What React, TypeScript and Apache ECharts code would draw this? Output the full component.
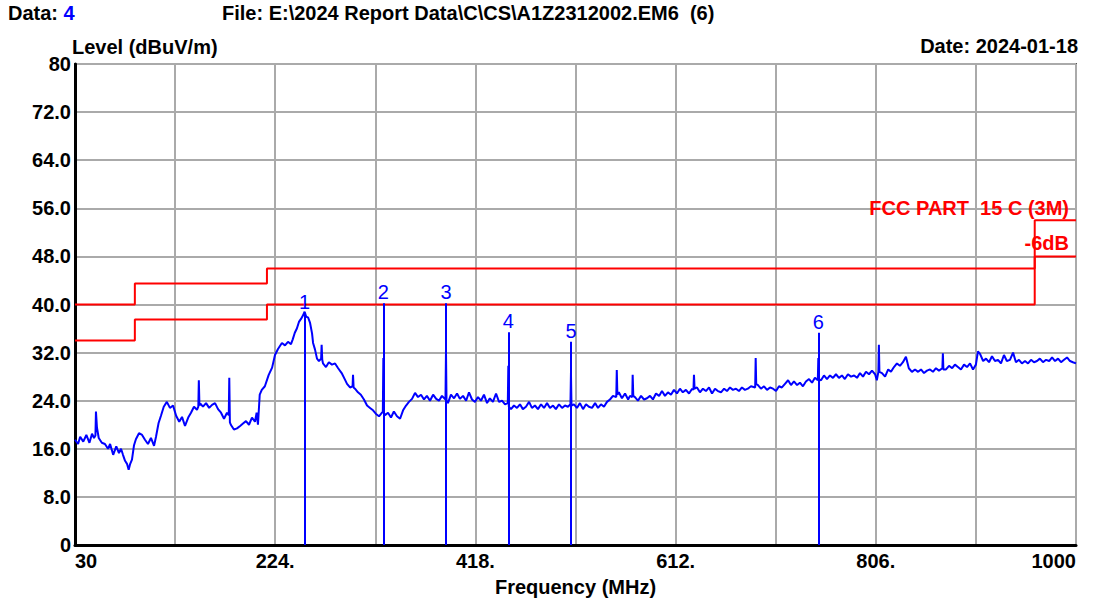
import React, { useEffect, useRef } from "react";
import * as echarts from "echarts";

// ---- data ----
const xMin = 30;
const xMax = 1000;
const xStep = 97;
const xLabelValues = [30, 224, 418, 612, 806, 1000];
const xLabelTexts = ["30", "224.", "418.", "612.", "806.", "1000"];
const yLabelTexts = ["0", "8.0", "16.0", "24.0", "32.0", "40.0", "48.0", "56.0", "64.0", "72.0", "80"];

// FCC Part 15 C (3M) limit and -6dB margin (step lines)
const limitFreqs = [30, 88, 216, 960, 1000];
const limitLevels = [40, 43.5, 46, 54, 54];
const marginLevels = [34, 37.5, 40, 48, 48];

// markers
const markerNames = ["1", "2", "3", "4", "5", "6"];
const markerFreqs = [252.5, 328.8, 389.5, 449.9, 510.6, 750.3];
const markerLevels = [38.6, 40.2, 40.2, 35.4, 33.8, 35.3];

// measured trace [MHz, dBuV/m]
const trace: [number, number][] = [
  [30, 17.5], [33, 16.8], [35, 18.0], [38, 17.2], [41, 18.3], [44, 17.0], [46.5, 18.5], [48.4, 17.8],
  [49.8, 18.2], [50.3, 22.2], [51.3, 19.5], [53, 17.8], [56, 17.0], [59, 16.8], [62, 16.0], [64, 16.8],
  [67, 15.0], [70, 16.4], [72.6, 15.3], [74.6, 16.0], [76.5, 15.0], [78.5, 14.0], [80.4, 13.5], [82, 12.5],
  [83.3, 13.4], [85.2, 14.2], [87.2, 16.6], [89, 17.6], [92, 18.6], [95, 18.3], [97.8, 17.5], [100.7, 16.8],
  [103.6, 17.8], [106.6, 16.5], [108.5, 18.0], [111, 20.3], [113.3, 21.5], [116, 23.0], [119, 23.8], [122, 22.8],
  [125, 23.2], [128, 21.5], [131, 20.5], [133.7, 21.3], [136.6, 19.8], [140, 21.3], [142.4, 22.0], [145.3, 23.0],
  [148.2, 22.5], [149.5, 23.0], [150, 27.4], [150.6, 23.2], [151.5, 23.5], [154, 23.0], [157, 23.6], [160, 22.8],
  [162.8, 23.3], [165.7, 23.6], [168.6, 22.6], [171.5, 22.0], [174.4, 21.0], [177.3, 22.0], [179, 21.6], [179.5, 27.8],
  [180.1, 20.4], [181, 20.0], [184, 19.2], [187, 19.4], [190, 19.8], [192.8, 20.2], [195.7, 20.6], [198.6, 20.0],
  [201.5, 21.2], [204.4, 20.5], [206, 22.0], [207.3, 20.0], [209, 25.0], [211, 25.8], [214, 26.4], [217.7, 28.3],
  [221, 29.5], [223.8, 31.6], [226.7, 32.6], [230.5, 33.6], [233.5, 33.2], [236.4, 33.8], [239.3, 33.4], [241, 34.2],
  [243, 35.3], [245, 36.0], [247, 37.1], [249, 37.6], [251, 38.2], [252.5, 38.8], [254, 38.0], [256, 37.8],
  [257.7, 37.0], [259.7, 35.2], [260.7, 33.6], [262.6, 32.5], [264.5, 31.0], [266.4, 30.6], [268.5, 31.0], [269, 33.3],
  [269.6, 30.8], [270.3, 30.2], [273.2, 29.6], [276, 30.4], [279, 30.0], [282, 30.2], [285, 29.4], [288.4, 28.6],
  [291.6, 27.5], [293.6, 26.8], [296.5, 26.2], [299, 26.4], [299.4, 28.3], [300, 26.2], [301.3, 26.0], [304.2, 25.4],
  [307, 25.0], [310, 24.2], [313, 23.2], [315.9, 22.8], [318.8, 22.4], [321.7, 21.8], [324.6, 21.4], [327.5, 22.0],
  [328.3, 22.2], [328.8, 31.1], [329.3, 22.0], [330.4, 21.6], [333.3, 22.0], [336.2, 21.2], [339, 22.2], [342, 21.4],
  [345, 21.0], [347.9, 22.4], [350.8, 23.2], [353.6, 23.8], [356.6, 24.3], [359.5, 25.3], [362.4, 24.6], [365.3, 25.0],
  [368.2, 24.2], [371, 24.8], [374, 24.0], [377, 25.0], [380, 24.3], [382.7, 24.0], [385.6, 24.8], [389, 24.2],
  [389.5, 32.4], [390, 24.0], [391.4, 23.6], [394.3, 25.0], [397.3, 24.4], [400.2, 25.2], [403, 24.3], [406, 24.8],
  [409, 24.0], [411.8, 25.4], [414.7, 24.2], [417.6, 23.8], [420.5, 24.6], [423.4, 24.0], [426.3, 25.0], [429.3, 23.6],
  [432, 24.4], [435, 23.8], [438, 25.2], [440.9, 23.8], [443.8, 24.0], [446.7, 23.4], [449.4, 23.6], [449.9, 29.8],
  [450.4, 23.0], [452.5, 22.6], [455.4, 23.2], [458.3, 22.8], [461.2, 23.4], [464, 22.6], [467, 23.0], [470, 23.8],
  [472.8, 22.8], [475.7, 23.2], [478.6, 22.6], [481.6, 23.4], [484.5, 22.8], [487.4, 23.6], [490.3, 22.8], [493.2, 23.2],
  [496, 22.6], [499, 23.4], [502, 22.8], [504.8, 23.2], [507.7, 23.0], [510.1, 23.4], [510.6, 28.6], [511.1, 23.2],
  [513.5, 23.4], [516.4, 22.8], [519.3, 23.6], [522.3, 22.6], [525.2, 23.4], [528, 23.0], [531, 22.8], [534, 23.6],
  [536.8, 22.8], [539.7, 23.4], [542.6, 23.0], [545.5, 23.8], [548.4, 24.2], [551.3, 24.8], [554.5, 24.6], [555, 29.1],
  [555.6, 25.0], [557, 25.4], [560, 24.4], [563, 25.2], [566, 24.2], [567.8, 24.8], [570, 24.6], [570.4, 28.3],
  [571, 24.8], [572.6, 24.6], [575.5, 24.0], [578.5, 24.8], [581.4, 24.2], [584.3, 24.4], [587.2, 24.8], [590, 24.2],
  [593, 25.2], [596, 24.8], [598.8, 25.6], [601.7, 24.8], [604.6, 25.4], [607.5, 25.0], [610.4, 25.8], [613.3, 25.2],
  [616.2, 26.0], [619, 25.4], [622, 25.8], [625, 25.2], [628, 26.0], [629.3, 25.8], [629.8, 28.3], [630.4, 26.0],
  [632.7, 26.2], [635.6, 25.4], [638.5, 26.0], [641.4, 25.6], [644.4, 26.2], [647.3, 25.2], [650.2, 26.0], [653, 25.6],
  [656, 25.4], [659, 26.0], [661.8, 25.6], [664.7, 26.2], [667.6, 25.8], [670.5, 26.0], [673.4, 25.6], [676.3, 26.2],
  [679.2, 25.8], [682, 26.0], [685, 26.4], [689.1, 26.2], [689.6, 31.1], [690.1, 26.8], [691.8, 26.6], [694.7, 26.0],
  [697.7, 26.4], [700.6, 25.8], [703.5, 26.2], [706.4, 26.0], [709.3, 25.6], [712.2, 26.4], [715, 26.2], [718, 26.8],
  [721, 27.4], [723.8, 26.6], [726.7, 27.2], [729.7, 26.6], [732.5, 27.0], [735.4, 26.4], [738.3, 27.2], [741.3, 27.6],
  [744.2, 27.0], [747, 27.8], [749.8, 27.4], [750.3, 31.1], [750.8, 27.6], [752.9, 27.4], [755.8, 28.2], [758.7, 27.6],
  [761.6, 28.2], [764.5, 27.8], [767.4, 28.4], [770.3, 27.8], [773.2, 28.2], [776, 27.6], [779, 28.4], [782, 28.0],
  [785, 28.2], [787.8, 27.8], [790.7, 28.6], [793.6, 28.0], [796.5, 28.8], [799.4, 28.4], [802.3, 29.0], [805.3, 28.4],
  [807, 27.4], [808.5, 28.8], [809, 33.3], [809.5, 28.8], [812, 28.6], [815, 28.0], [818, 29.2], [820.7, 28.8],
  [823.6, 29.6], [826.5, 30.2], [829.4, 29.8], [832.3, 30.4], [835.2, 31.3], [838, 29.4], [841, 28.8], [844, 29.2],
  [847, 28.8], [849.8, 29.2], [852.7, 28.6], [855.6, 29.0], [858.5, 29.2], [861.4, 28.8], [864.3, 29.4], [867.2, 29.0],
  [870.5, 29.4], [871, 31.9], [871.5, 29.2], [874, 29.2], [877, 29.8], [880, 29.4], [882.7, 30.0], [885.6, 29.6],
  [888.5, 29.2], [891.5, 30.0], [894.4, 29.6], [897.3, 30.2], [900.2, 29.2], [903, 30.0], [905, 32.2], [907, 31.8],
  [910, 30.6], [912.8, 31.0], [915.7, 30.4], [918.6, 31.4], [921.5, 30.6], [924.4, 30.8], [927.3, 30.2], [930.2, 31.6],
  [933, 30.6], [936, 30.8], [939, 32.0], [941.8, 30.4], [944.7, 30.8], [947.6, 30.2], [950.6, 30.6], [953.5, 30.2],
  [956.4, 30.8], [959.3, 30.4], [962.2, 30.6], [965, 31.0], [968, 30.4], [971, 30.8], [974, 30.6], [976.8, 31.2],
  [979.7, 30.6], [982.6, 31.0], [985.5, 30.4], [988.4, 30.8], [991.3, 31.2], [994.2, 30.6], [997, 30.4], [1000, 30.2],
];

const FONT = "'Liberation Sans', Arial, Helvetica, sans-serif";

export default function App() {
  const ref = useRef<HTMLDivElement>(null);

  useEffect(() => {
    document.body.style.margin = "0";
    if (!ref.current) return;
    const chart = echarts.init(ref.current, undefined, { renderer: "svg" });

    const limitData = limitFreqs.map((f, i) => [f, limitLevels[i]]);
    const marginData = limitFreqs.map((f, i) => [f, marginLevels[i]]);
    const markerLines = markerFreqs.map((f, i) => [
      { coord: [f, 0], name: markerNames[i] },
      { coord: [f, markerLevels[i]] },
    ]);

    const textBase = { fontFamily: FONT, fontWeight: "bold", fontSize: 20, fill: "#000" };

    chart.setOption({
      animation: false,
      backgroundColor: "#fff",
      grid: {
        left: 75,
        width: 1001,
        top: 64,
        height: 481,
        containLabel: false,
        outerBoundsMode: "none",
        show: true,
        borderColor: "#555",
        borderWidth: 2,
        backgroundColor: "transparent",
      },
      xAxis: {
        type: "value",
        min: xMin,
        max: xMax,
        interval: xStep,
        name: "Frequency (MHz)",
        nameLocation: "middle",
        nameGap: 32,
        nameTextStyle: { fontFamily: FONT, fontWeight: "bold", fontSize: 20, color: "#000" },
        axisLine: { show: true, onZero: false, lineStyle: { color: "#000", width: 3 } },
        axisTick: { show: false },
        splitLine: { show: true, lineStyle: { color: "#aaaaaa", width: 2 } },
        axisLabel: {
          fontFamily: FONT,
          fontWeight: "bold",
          fontSize: 20,
          color: "#000",
          margin: 6,
          showMinLabel: true,
          showMaxLabel: true,
          alignMinLabel: "left",
          alignMaxLabel: "right",
          hideOverlap: false,
          formatter: (v: number) => {
            const i = xLabelValues.findIndex((t) => Math.abs(t - v) < 0.01);
            return i >= 0 ? xLabelTexts[i] : "";
          },
        },
      },
      yAxis: {
        type: "value",
        min: 0,
        max: 80,
        interval: 8,
        axisLine: { show: true, onZero: false, lineStyle: { color: "#000", width: 3 } },
        axisTick: { show: false },
        splitLine: { show: true, lineStyle: { color: "#aaaaaa", width: 2 } },
        axisLabel: {
          fontFamily: FONT,
          fontWeight: "bold",
          fontSize: 20,
          color: "#000",
          margin: 4,
          formatter: (v: number) => yLabelTexts[Math.round(v / 8)] ?? "",
        },
      },
      series: [
        {
          name: "limit",
          type: "line",
          step: "end",
          data: limitData,
          showSymbol: false,
          silent: true,
          lineStyle: { color: "#ff0000", width: 2 },
          z: 3,
        },
        {
          name: "margin",
          type: "line",
          step: "end",
          data: marginData,
          showSymbol: false,
          silent: true,
          lineStyle: { color: "#ff0000", width: 2 },
          z: 3,
        },
        {
          name: "trace",
          type: "line",
          data: trace,
          showSymbol: false,
          silent: true,
          lineStyle: { color: "#0000ff", width: 2 },
          z: 4,
          markLine: {
            silent: true,
            symbol: ["none", "none"],
            lineStyle: { color: "#0000ff", width: 2, type: "solid" },
            label: {
              show: true,
              position: "end",
              distance: 1,
              formatter: (p: any) => p.name,
              color: "#0000ff",
              fontFamily: FONT,
              fontSize: 20,
              fontWeight: "normal",
            },
            data: markerLines,
          },
        },
      ],
      graphic: [
        {
          type: "text",
          left: 8,
          top: 3,
          z: 10,
          style: {
            text: "{a|Data:} {b|4}",
            rich: {
              a: { ...textBase },
              b: { ...textBase, fill: "#0000ff", color: "#0000ff" },
            },
            ...textBase,
          },
        },
        {
          type: "text",
          left: 222,
          top: 3,
          z: 10,
          style: { ...textBase, text: "File: E:\\2024 Report Data\\C\\CS\\A1Z2312002.EM6  (6)" },
        },
        {
          type: "text",
          left: 72,
          top: 37,
          z: 10,
          style: { ...textBase, text: "Level (dBuV/m)" },
        },
        {
          type: "text",
          right: 18,
          top: 36,
          z: 10,
          style: { ...textBase, text: "Date: 2024-01-18" },
        },
        {
          type: "text",
          right: 27,
          top: 198,
          z: 10,
          style: { ...textBase, fill: "#ff0000", text: "FCC PART  15 C (3M)" },
        },
        {
          type: "text",
          right: 27,
          top: 233,
          z: 10,
          style: { ...textBase, fill: "#ff0000", text: "-6dB" },
        },
      ],
    });

    return () => chart.dispose();
  }, []);

  return (
    <div
      ref={ref}
      style={{ position: "fixed", left: 0, top: 0, width: 1096, height: 601, background: "#fff" }}
    />
  );
}
